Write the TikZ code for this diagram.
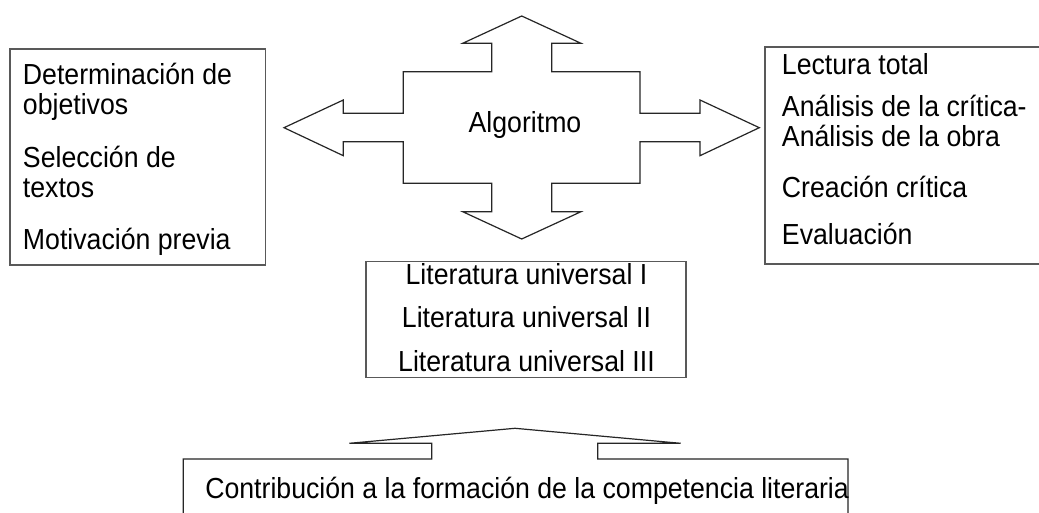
\documentclass[tikz,border=0pt]{standalone}
\usepackage{fontspec}
\setmainfont{Liberation Sans}
\newcommand{\cond}[1]{\scalebox{0.92}[1]{#1}}
\begin{document}
\begin{tikzpicture}[x=0.75pt,y=-0.75pt,
  shapeline/.style={draw=black!85,line width=0.9pt,line join=miter},
  boxline/.style={draw=black!65,line width=1pt},
  txt/.style={inner sep=0pt,font=\fontsize{21.75}{26}\selectfont},
  ltxt/.style={txt,anchor=base west},
  ctxt/.style={txt,anchor=base}]
\useasboundingbox[fill=white] (0,0) rectangle (1039,513);

% central four-way arrow
\draw[shapeline] (521.7,16) -- (581,43.3) -- (551.7,43.3) -- (551.7,71.7) -- (640,71.7)
  -- (640,113.3) -- (700,113.3) -- (700,100) -- (759.3,127.7) -- (700,155.7) -- (700,141.7)
  -- (640,141.7) -- (640,183.3) -- (551.7,183.3) -- (551.7,211.7) -- (581,211.7)
  -- (521.7,239) -- (462.7,211.7) -- (491.7,211.7) -- (491.7,183.3) -- (403.3,183.3)
  -- (403.3,141.7) -- (343.3,141.7) -- (343.3,155.7) -- (284,127.7) -- (343.3,100)
  -- (343.3,113.3) -- (403.3,113.3) -- (403.3,71.7) -- (491.7,71.7) -- (491.7,43.3)
  -- (462.7,43.3) -- cycle;
\node[ctxt] (alg) at (525,133) {\cond{Algoritmo}};

% left box
\draw[boxline] (10,49) rectangle (265.7,265);
\node[ltxt] (l1) at (22.7,85) {\cond{Determinación de}};
\node[ltxt] (l2) at (22.7,115) {\cond{objetivos}};
\node[ltxt] (l3) at (22.7,168) {\cond{Selección de}};
\node[ltxt] (l4) at (22.7,198) {\cond{textos}};
\node[ltxt] (l5) at (22.7,250) {\cond{Motivación previa}};

% right box (right side cut by the page edge)
\draw[boxline] (1045,47) -- (765,47) -- (765,264) -- (1045,264);
\node[ltxt] (r1) at (781.7,75) {\cond{Lectura total}};
\node[ltxt] (r2) at (781.7,117) {\cond{Análisis de la crítica-}};
\node[ltxt] (r3) at (781.7,147) {\cond{Análisis de la obra}};
\node[ltxt] (r4) at (781.7,198) {\cond{Creación crítica}};
\node[ltxt] (r5) at (781.7,245) {\cond{Evaluación}};

% middle box
\draw[boxline] (366,261.7) rectangle (686,377.7);
\node[ctxt] (m1) at (526.5,285) {\cond{Literatura universal I}};
\node[ctxt] (m2) at (526.5,328) {\cond{Literatura universal II}};
\node[ctxt] (m3) at (526.5,371) {\cond{Literatura universal III}};

% bottom box with flat arrow
\draw[shapeline] (183.3,520) -- (183.3,459) -- (431.7,459) -- (431.7,443.3) -- (349.3,443.3)
  -- (515,428.3) -- (680.7,443.3) -- (597.7,443.3) -- (597.7,459) -- (848,459) -- (848,520);
\node[ltxt] (b1) at (205,498) {\cond{Contribución a la formación de la competencia literaria}};
\end{tikzpicture}
\end{document}
